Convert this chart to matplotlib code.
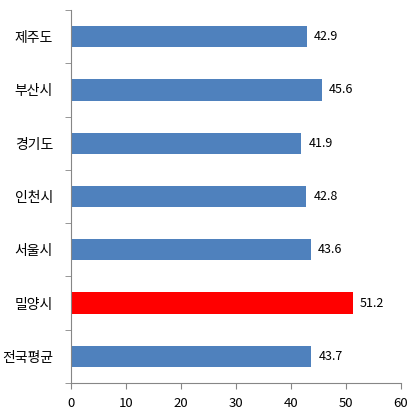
import matplotlib
matplotlib.use("Agg")
import matplotlib.pyplot as plt

plt.rcParams['font.family'] = ['Noto Sans CJK KR', 'DejaVu Sans']

categories = ['제주도', '부산시', '경기도', '인천시', '서울시', '밀양시', '전국평균']
values = [42.9, 45.6, 41.9, 42.8, 43.6, 51.2, 43.7]
colors = ['#4F81BD', '#4F81BD', '#4F81BD', '#4F81BD', '#4F81BD', '#FF0000', '#4F81BD']
xticks = [0, 10, 20, 30, 40, 50, 60]

fig = plt.figure(figsize=(4.15, 4.18), dpi=100)
ax = fig.add_axes([71/415, 35/418, 330/415, 373/418])

n = len(categories)
ypos = list(range(n))
ax.barh(ypos, values, height=0.4, color=colors)
ax.set_ylim(n - 0.5, -0.5)
ax.set_xlim(0, 60)
ax.set_xticks(xticks)
ax.set_xticklabels([str(t) for t in xticks], fontsize=9.5)
ax.set_yticks(ypos)
ax.set_yticklabels(categories, fontsize=10)
ax.set_yticks([i - 0.5 for i in range(n + 1)], minor=True)
ax.tick_params(axis='y', which='major', length=0, pad=13)
ax.tick_params(axis='y', which='minor', length=4, color='#868686', direction='out')
ax.tick_params(axis='x', length=4, color='#868686', direction='out', pad=6)

for sp in ['top', 'right']:
    ax.spines[sp].set_visible(False)
for sp in ['left', 'bottom']:
    ax.spines[sp].set_color('#868686')

for y, v in zip(ypos, values):
    ax.text(v + 1.3, y, f'{v:.1f}', va='center', ha='left', fontsize=9)

fig.savefig('out.png', dpi=100)
